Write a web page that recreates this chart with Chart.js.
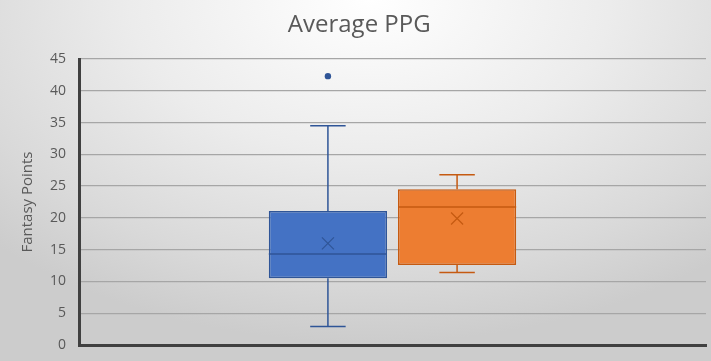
<!DOCTYPE html>
<html lang="en">
<head>
    <meta charset="UTF-8">
    <title>Average PPG</title>
    <script src="https://cdn.jsdelivr.net/npm/chart.js"></script>
    <style>
        html, body {
            margin: 0;
            padding: 0;
        }
        body {
            width: 711px;
            height: 361px;
            overflow: hidden;
            background: radial-gradient(ellipse 75% 95% at 52% 0%, #ffffff 0%, #ececec 45%, #d9d9d9 80%, #cccccc 100%);
        }
        #wrap {
            position: relative;
            width: 711px;
            height: 361px;
        }
    </style>
</head>
<body>
<div id="wrap"><canvas id="boxChart"></canvas></div>

<script>
    // box plot stats
    const categories = ['Average PPG'];
    const seriesNames = ['Series A', 'Series B'];
    const q1Values = [10.5, 12.6];
    const q3Values = [21.1, 24.5];
    const medianValues = [14.3, 21.7];
    const meanValues = [16.0, 19.9];
    const whiskerLow = [2.9, 11.4];
    const whiskerHigh = [34.5, 26.8];
    const outliers = [[42.3], []];
    const yTicks = [0, 5, 10, 15, 20, 25, 30, 35, 40, 45];

    const fillColors = ['#4472C4', '#ED7D31'];
    const lineColors = ['#2F5597', '#C55A11'];

    // draws whiskers, medians, mean markers and outliers on top of the floating bars
    const boxExtras = {
        id: 'boxExtras',
        afterDatasetsDraw(chart) {
            const ctx = chart.ctx;
            const y = chart.scales.y;
            chart.data.datasets.forEach((ds, i) => {
                const bar = chart.getDatasetMeta(i).data[0];
                if (!bar) return;
                const cx = bar.x;
                const half = bar.width / 2;
                const capHalf = bar.width * 0.15;
                const col = lineColors[i];
                ctx.save();
                ctx.strokeStyle = col;
                ctx.lineWidth = 1.5;

                // whiskers
                const yq1 = y.getPixelForValue(q1Values[i]);
                const yq3 = y.getPixelForValue(q3Values[i]);
                const ylo = y.getPixelForValue(whiskerLow[i]);
                const yhi = y.getPixelForValue(whiskerHigh[i]);
                ctx.beginPath();
                ctx.moveTo(cx, yq3); ctx.lineTo(cx, yhi);
                ctx.moveTo(cx - capHalf, yhi); ctx.lineTo(cx + capHalf, yhi);
                ctx.moveTo(cx, yq1); ctx.lineTo(cx, ylo);
                ctx.moveTo(cx - capHalf, ylo); ctx.lineTo(cx + capHalf, ylo);
                ctx.stroke();

                // median
                const ym = y.getPixelForValue(medianValues[i]);
                ctx.beginPath();
                ctx.moveTo(cx - half, ym); ctx.lineTo(cx + half, ym);
                ctx.stroke();

                // mean marker (x)
                const ymean = y.getPixelForValue(meanValues[i]);
                const s = 6;
                ctx.lineWidth = 1.2;
                ctx.beginPath();
                ctx.moveTo(cx - s, ymean - s); ctx.lineTo(cx + s, ymean + s);
                ctx.moveTo(cx + s, ymean - s); ctx.lineTo(cx - s, ymean + s);
                ctx.stroke();

                // outliers
                outliers[i].forEach(v => {
                    ctx.beginPath();
                    ctx.arc(cx, y.getPixelForValue(v), 3.2, 0, Math.PI * 2);
                    ctx.fillStyle = col;
                    ctx.fill();
                });
                ctx.restore();
            });
        }
    };

    const ctx = document.getElementById('boxChart').getContext('2d');
    new Chart(ctx, {
        type: 'bar',
        data: {
            labels: categories,
            datasets: seriesNames.map((name, i) => ({
                label: name,
                data: [[q1Values[i], q3Values[i]]],
                backgroundColor: fillColors[i],
                borderColor: lineColors[i],
                borderWidth: 1.5,
                borderSkipped: false,
                barPercentage: 0.915,
                categoryPercentage: 0.412
            }))
        },
        options: {
            responsive: true,
            maintainAspectRatio: false,
            animation: false,
            layout: {
                padding: { left: 0, right: 5, top: 0, bottom: 0 }
            },
            scales: {
                x: {
                    grid: { display: false },
                    ticks: { display: false },
                    border: { display: true, color: '#404040', width: 3 },
                    afterFit(scale) { scale.height = 16; }
                },
                y: {
                    min: 0,
                    max: 45,
                    afterBuildTicks(scale) {
                        scale.ticks = yTicks.map(v => ({ value: v }));
                    },
                    grid: {
                        color: '#a6a6a6',
                        lineWidth: 1.3,
                        drawTicks: false
                    },
                    border: { display: true, color: '#404040', width: 3 },
                    ticks: {
                        color: '#595959',
                        padding: 13,
                        font: { family: 'Open Sans', size: 14 }
                    },
                    title: {
                        display: true,
                        text: 'Fantasy Points',
                        color: '#595959',
                        padding: { top: 19, bottom: 0 },
                        font: { family: 'Open Sans', size: 15 }
                    },
                    afterFit(scale) {
                        scale.width = 79;
                        // tick padding should not push the plot area in vertically
                        scale.paddingTop = 0;
                        scale.paddingBottom = 0;
                    }
                }
            },
            plugins: {
                legend: { display: false },
                tooltip: { enabled: false },
                title: {
                    display: true,
                    text: '  Average PPG',
                    color: '#595959',
                    padding: { top: 11, bottom: 19.2 },
                    font: { family: 'Open Sans', size: 24, weight: 'normal', lineHeight: 1.2 }
                }
            }
        },
        plugins: [boxExtras]
    });
</script>
</body>
</html>
